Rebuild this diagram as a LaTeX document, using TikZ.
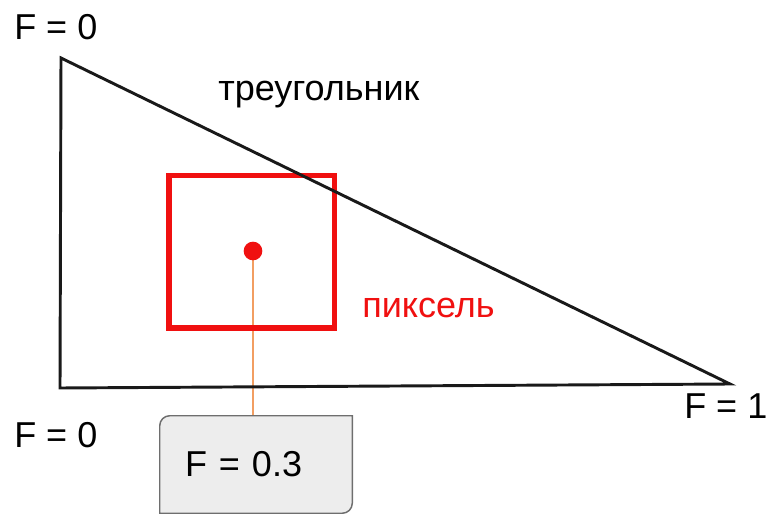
\documentclass[tikz,border=0pt]{standalone}
\usepackage{fontspec}
\setmainfont{Liberation Sans}
\usetikzlibrary{calc}
\usetikzlibrary{backgrounds}
\definecolor{figRojo}{RGB}{240,16,16}
\definecolor{figNaranja}{RGB}{242,158,98}
\definecolor{figGris}{RGB}{237,237,237}
\definecolor{figGrisBorde}{RGB}{110,110,110}
\tikzset{
  etiqueta/.style={font=\fontsize{27}{32}\selectfont, inner sep=0pt, anchor=base west},
  lado/.style={line width=2.2pt, draw=black!90, line join=miter},
  pixelcuadro/.style={
    rectangle, draw=figRojo, line width=4.1pt,
    minimum width=124pt, minimum height=114.4pt, inner sep=0pt
  },
  punto/.style={circle, fill=figRojo, minimum size=14pt, inner sep=0pt},
  guia/.style={line width=1.6pt, draw=figNaranja},
  valor/.style={
    rectangle, minimum width=144pt, minimum height=72.75pt,
    text width=106.5pt, inner xsep=18.75pt, align=left,
    font=\fontsize{27}{32}\selectfont
  },
  marco/.style={fill=figGris, draw=figGrisBorde, line width=1.1pt}
}
\begin{document}
\begin{tikzpicture}[x=0.75pt, y=-0.75pt]
  \useasboundingbox (0,0) rectangle (769,514);
  % vertices of the triangle
  \coordinate (vArriba) at (61,58);
  \coordinate (vAbajo) at (60,388);
  \coordinate (vDerecha) at (730,384);
  % pixel and sample point
  \node[pixelcuadro] (pixel) at (251.75,251.75) {};
  \node[punto] (muestra) at (253,251) {};
  \node[valor] (valbox) at (256,464.5) {F = 0.3};
  \draw[lado] (vArriba) -- (vAbajo) -- (vDerecha) -- cycle;
  % labels
  \node[etiqueta] (fArriba) at (14,39) {F = 0};
  \node[etiqueta] (titulo) at (218,100) {треугольник};
  \node[etiqueta, text=figRojo] (etiqPixel) at (362,317) {пиксель};
  \node[etiqueta] (fAbajo) at (14,447) {F = 0};
  \node[etiqueta] (fDerecha) at (684,418) {F = 1};
  \begin{scope}[on background layer]
    \draw[guia] (muestra.center) -- (muestra |- valbox.north);
    \filldraw[marco] (valbox.south west)
      -- ($(valbox.north west)+(0,-7.5pt)$) arc[start angle=180, end angle=90, radius=7.5pt]
      -- (valbox.north east)
      -- ($(valbox.south east)+(0,7.5pt)$) arc[start angle=0, end angle=-90, radius=7.5pt]
      -- cycle;
  \end{scope}
\end{tikzpicture}
\end{document}
